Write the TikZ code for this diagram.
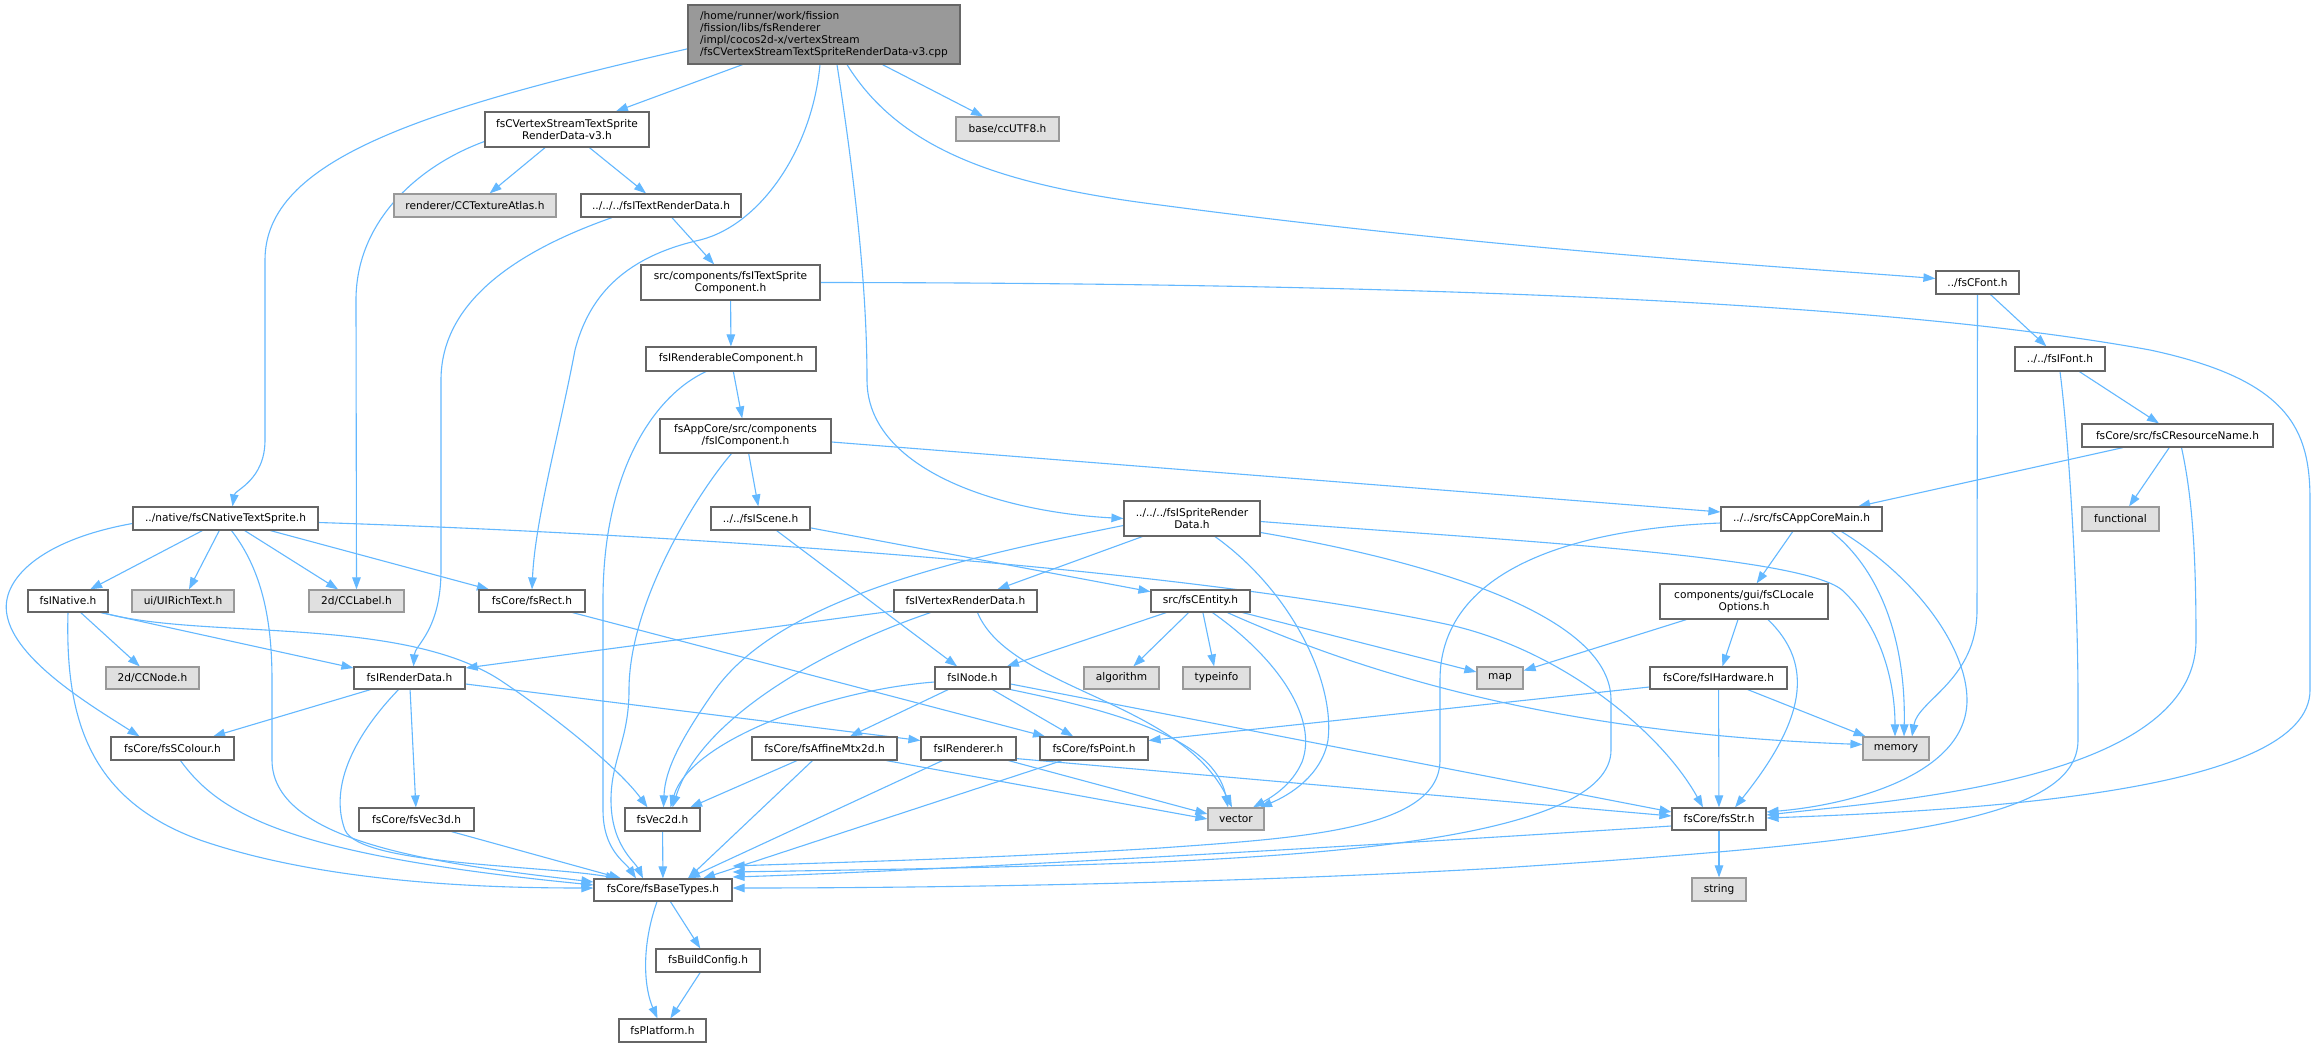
\documentclass[tikz,border=0pt]{standalone}
\usepackage{fontspec}
\setmainfont{DejaVu Sans}
\usetikzlibrary{arrows.meta,backgrounds}
\definecolor{edgeblue}{HTML}{63B8FF}
\definecolor{boxline}{HTML}{666666}
\definecolor{sysfill}{HTML}{E0E0E0}
\definecolor{sysline}{HTML}{999999}
\definecolor{topfill}{HTML}{999999}
\tikzset{
  hdr/.style={shape=rectangle,draw=boxline,fill=white,line width=1.2pt,inner sep=0pt,align=center,font=\fontsize{10.6}{12}\selectfont},
  syshdr/.style={hdr,draw=sysline,fill=sysfill},
  inc/.style={draw=edgeblue,line width=1.1pt,-{Triangle[length=12pt,width=8.5pt]}}
}
\begin{document}
\begin{tikzpicture}[x=1pt,y=-1pt]
 \useasboundingbox (0,0) rectangle (2316,1048);
 \node (main) at (824,34.5) [hdr,fill=topfill,align=left,minimum width=272pt,minimum height=59pt] {/home/runner/work/fission\\/fission/libs/fsRenderer\\/impl/cocos2d-x/vertexStream\\/fsCVertexStreamTextSpriteRenderData-v3.cpp};
 \node (vsd) at (567,129.5) [hdr,minimum width=164pt,minimum height=35pt] {fsCVertexStreamTextSprite\\RenderData-v3.h};
 \node (utf) at (1007.5,129) [syshdr,minimum width=103pt,minimum height=24pt] {base/ccUTF8.h};
 \node (atlas) at (475,205.5) [syshdr,minimum width=162pt,minimum height=23pt] {renderer/CCTextureAtlas.h};
 \node (trd) at (661,205.5) [hdr,minimum width=160pt,minimum height=23pt] {../../../fsITextRenderData.h};
 \node (tsc) at (730.5,282.5) [hdr,minimum width=179pt,minimum height=35pt] {src/components/fsITextSprite\\Component.h};
 \node (rcomp) at (731,359) [hdr,minimum width=170pt,minimum height=24pt] {fsIRenderableComponent.h};
 \node (comp) at (745.5,436) [hdr,minimum width=171pt,minimum height=34pt] {fsAppCore/src/components\\/fsIComponent.h};
 \node (cfont) at (1977.5,282.5) [hdr,minimum width=83pt,minimum height=23pt] {../fsCFont.h};
 \node (ifont) at (2060,359) [hdr,minimum width=90pt,minimum height=24pt] {../../fsIFont.h};
 \node (resname) at (2177.5,435.5) [hdr,minimum width=191pt,minimum height=23pt] {fsCore/src/fsCResourceName.h};
 \node (functional) at (2120.5,519) [syshdr,minimum width=77pt,minimum height=24pt] {functional};
 \node (appmain) at (1801.5,519) [hdr,minimum width=161pt,minimum height=24pt] {../../src/fsCAppCoreMain.h};
 \node (native) at (225.5,518.5) [hdr,minimum width=185pt,minimum height=23pt] {../native/fsCNativeTextSprite.h};
 \node (scene) at (760.5,518.5) [hdr,minimum width=99pt,minimum height=23pt] {../../fsIScene.h};
 \node (spr) at (1192,518.5) [hdr,minimum width=136pt,minimum height=35pt] {../../../fsISpriteRender\\Data.h};
 \node (inative) at (68,601) [hdr,minimum width=80pt,minimum height=22pt] {fsINative.h};
 \node (rich) at (183,601) [syshdr,minimum width=102pt,minimum height=22pt] {ui/UIRichText.h};
 \node (cclabel) at (356.5,601) [syshdr,minimum width=95pt,minimum height=22pt] {2d/CCLabel.h};
 \node (rect) at (532,601) [hdr,minimum width=106pt,minimum height=22pt] {fsCore/fsRect.h};
 \node (vrd) at (965.5,601) [hdr,minimum width=143pt,minimum height=22pt] {fsIVertexRenderData.h};
 \node (entity) at (1200.5,601) [hdr,minimum width=99pt,minimum height=22pt] {src/fsCEntity.h};
 \node (locale) at (1744,601.5) [hdr,minimum width=168pt,minimum height=35pt] {components/gui/fsCLocale\\Options.h};
 \node (ccnode) at (152.5,678) [syshdr,minimum width=93pt,minimum height=22pt] {2d/CCNode.h};
 \node (rdata) at (409.5,678) [hdr,minimum width=111pt,minimum height=22pt] {fsIRenderData.h};
 \node (inode) at (972.5,678) [hdr,minimum width=75pt,minimum height=22pt] {fsINode.h};
 \node (algorithm) at (1121.5,678) [syshdr,minimum width=75pt,minimum height=22pt] {algorithm};
 \node (typeinfo) at (1216.5,678) [syshdr,minimum width=67pt,minimum height=22pt] {typeinfo};
 \node (map) at (1500,678) [syshdr,minimum width=46pt,minimum height=22pt] {map};
 \node (hardware) at (1718.5,678) [hdr,minimum width=137pt,minimum height=22pt] {fsCore/fsIHardware.h};
 \node (colour) at (172.5,748.5) [hdr,minimum width=123pt,minimum height=23pt] {fsCore/fsSColour.h};
 \node (affine) at (824.5,748.5) [hdr,minimum width=145pt,minimum height=23pt] {fsCore/fsAffineMtx2d.h};
 \node (renderer) at (968.5,748.5) [hdr,minimum width=95pt,minimum height=23pt] {fsIRenderer.h};
 \node (point) at (1094,748.5) [hdr,minimum width=108pt,minimum height=23pt] {fsCore/fsPoint.h};
 \node (memory) at (1896,748.5) [syshdr,minimum width=66pt,minimum height=23pt] {memory};
 \node (vec3d) at (416.5,819.5) [hdr,minimum width=115pt,minimum height=23pt] {fsCore/fsVec3d.h};
 \node (vec2d) at (662.5,819.5) [hdr,minimum width=75pt,minimum height=23pt] {fsVec2d.h};
 \node (vector) at (1236,819) [syshdr,minimum width=56pt,minimum height=22pt] {vector};
 \node (str) at (1719,819) [hdr,minimum width=94pt,minimum height=22pt] {fsCore/fsStr.h};
 \node (basetypes) at (663,890) [hdr,minimum width=138pt,minimum height=22pt] {fsCore/fsBaseTypes.h};
 \node (string) at (1719,889.5) [syshdr,minimum width=54pt,minimum height=23pt] {string};
 \node (buildcfg) at (708,960.5) [hdr,minimum width=104pt,minimum height=23pt] {fsBuildConfig.h};
 \node (platform) at (662.5,1030.5) [hdr,minimum width=87pt,minimum height=23pt] {fsPlatform.h};
 \begin{scope}[on background layer]
 \fill[white] (0,0) rectangle (2316,1048);
 \draw[inc] (main) -- (vsd);
 \draw[inc] (main) -- (utf);
 \draw[inc] (main.186) .. controls (420,110) and (265,160) .. (265,260) -- (265,440) .. controls (265,480) and (235,490) .. ([xshift=7pt]native.north);
 \draw[inc] ([xshift=-4pt]main.south) .. controls (812,150) and (760,225) .. (700,240) .. controls (620,258) and (588,300) .. (575,350) .. controls (560,430) and (535,520) .. (rect.north);
 \draw[inc] ([xshift=13pt]main.south) .. controls (858,200) and (867,300) .. (867,380) .. controls (867,470) and (1000,512) .. (spr.west);
 \draw[inc] ([xshift=23pt]main.south) .. controls (900,150) and (1000,185) .. (1160,205) .. controls (1500,250) and (1800,268) .. ([yshift=4pt]cfont.west);
 \draw[inc] (vsd) -- (atlas);
 \draw[inc] (vsd) -- (trd);
 \draw[inc] ([yshift=-12pt]vsd.west) .. controls (420,165) and (356,220) .. (356,300) -- (cclabel.north);
 \draw[inc] (trd) -- (tsc);
 \draw[inc] ([xshift=-49pt]trd.south) .. controls (520,250) and (441,300) .. (441,380) -- (441,570) .. controls (441,630) and (415,645) .. ([xshift=4pt]rdata.north);
 \draw[inc] (tsc) -- (rcomp);
 \draw[inc] (tsc.east) .. controls (1300,283) and (1850,295) .. (2150,350) .. controls (2290,380) and (2310,430) .. (2310,500) -- (2310,690) .. controls (2310,790) and (1990,810) .. ([yshift=1pt]str.east);
 \draw[inc] (rcomp) -- (comp);
 \draw[inc] ([xshift=-25pt]rcomp.south) .. controls (655,395) and (603,470) .. (603,600) -- (603,810) .. controls (603,850) and (625,862) .. ([xshift=-27pt]basetypes.north);
 \draw[inc] (comp) -- (scene);
 \draw[inc] ([yshift=-6pt]comp.east) -- ([yshift=7pt]appmain.west);
 \draw[inc] ([xshift=-14pt]comp.south) .. controls (700,490) and (629,600) .. (629,690) .. controls (629,740) and (611,760) .. (611,800) .. controls (611,845) and (635,862) .. ([xshift=-20pt]basetypes.north);
 \draw[inc] (scene) -- (entity);
 \draw[inc] (scene) -- (inode);
 \draw[inc] (native) -- (inative);
 \draw[inc] (native) -- (rich);
 \draw[inc] (native) -- (cclabel);
 \draw[inc] (native) -- (rect);
 \draw[inc] ([yshift=-5pt]native.west) .. controls (40,540) and (0,580) .. (7,615) .. controls (15,660) and (90,705) .. ([xshift=-33pt]colour.north);
 \draw[inc] ([xshift=6pt]native.south) .. controls (262,570) and (272,620) .. (272,680) -- (272,760) .. controls (272,845) and (450,865) .. ([yshift=8pt]basetypes.west);
 \draw[inc] ([yshift=-4pt]native.east) .. controls (700,535) and (1200,570) .. (1450,625) .. controls (1560,650) and (1660,730) .. ([xshift=-16pt]str.north);
 \draw[inc] (inative) -- (ccnode);
 \draw[inc] ([xshift=-8pt]inative.south east) -- ([yshift=10pt]rdata.west);
 \draw[inc] ([xshift=-6pt]inative.south east) .. controls (200,640) and (400,615) .. (500,680) .. controls (560,720) and (620,770) .. ([xshift=-15pt]vec2d.north);
 \draw[inc] (inative.south) .. controls (65,720) and (90,800) .. (200,840) .. controls (330,885) and (500,888) .. ([yshift=2pt]basetypes.west);
 \draw[inc] (rdata) -- (colour);
 \draw[inc] (rdata) -- (vec3d);
 \draw[inc] ([yshift=-6pt]rdata.east) -- ([yshift=8pt]renderer.west);
 \draw[inc] ([xshift=-11pt]rdata.south) .. controls (350,740) and (330,790) .. (345,830) .. controls (360,865) and (540,865) .. ([xshift=-45pt]basetypes.north);
 \draw[inc] ([xshift=8pt]colour.south) .. controls (220,815) and (290,855) .. ([yshift=5pt]basetypes.west);
 \draw[inc] ([xshift=35pt]vec3d.south) -- ([xshift=-42pt]basetypes.north);
 \draw[inc] (vec2d) -- (basetypes);
 \draw[inc] (inode) -- (affine);
 \draw[inc] (inode) -- (point);
 \draw[inc] (inode.south east) .. controls (1120,712) and (1215,740) .. ([xshift=-8pt]vector.north);
 \draw[inc] ([yshift=-4pt]inode.west) .. controls (830,690) and (690,740) .. ([xshift=8pt]vec2d.north);
 \draw[inc] ([yshift=-6pt]inode.east) -- ([yshift=7pt]str.west);
 \draw[inc] (renderer) -- (basetypes);
 \draw[inc] ([xshift=-8pt]renderer.south east) -- ([yshift=5pt]vector.west);
 \draw[inc] ([yshift=2pt]renderer.south east) -- ([yshift=3pt]str.west);
 \draw[inc] (affine) -- (vec2d);
 \draw[inc] ([xshift=-12pt]affine.south) -- ([xshift=25pt]basetypes.north);
 \draw[inc] ([xshift=62pt]affine.south) -- (vector.west);
 \draw[inc] ([xshift=-32pt]point.south) -- ([xshift=40pt]basetypes.north);
 \draw[inc] ([xshift=-13pt]rect.south east) -- ([xshift=-49pt]point.north);
 \draw[inc] ([yshift=-10pt]vrd.west) -- ([yshift=10pt]rdata.east);
 \draw[inc] ([xshift=-35pt]vrd.south) .. controls (820,650) and (700,720) .. ([xshift=10pt]vec2d.north);
 \draw[inc] ([xshift=12pt]vrd.south) .. controls (1010,690) and (1180,700) .. ([xshift=-4pt]vector.north);
 \draw[inc] (entity) -- (inode);
 \draw[inc] (entity) -- (algorithm);
 \draw[inc] (entity) -- (typeinfo);
 \draw[inc] ([xshift=12pt]entity.south) .. controls (1280,660) and (1318,720) .. (1302,762) .. controls (1292,785) and (1272,797) .. ([xshift=17pt]vector.north);
 \draw[inc] ([xshift=-8pt]entity.south east) -- ([yshift=6pt]map.west);
 \draw[inc] ([xshift=27pt]entity.south) .. controls (1400,690) and (1600,735) .. ([yshift=4pt]memory.west);
 \draw[inc] (spr) -- (vrd);
 \draw[inc] ([yshift=-7pt]spr.west) .. controls (950,560) and (780,600) .. (715,690) .. controls (680,740) and (665,770) .. ([xshift=1pt]vec2d.north);
 \draw[inc] ([xshift=23pt]spr.south) .. controls (1290,590) and (1335,680) .. (1328,740) .. controls (1322,775) and (1290,795) .. ([xshift=24pt]vector.north);
 \draw[inc] ([yshift=-3pt]spr.east) .. controls (1500,540) and (1800,555) .. (1842,590) .. controls (1880,625) and (1895,680) .. ([xshift=-1pt]memory.north);
 \draw[inc] ([yshift=-14pt]spr.east) .. controls (1450,565) and (1611,620) .. (1611,700) -- (1611,750) .. controls (1611,840) and (1300,855) .. (1160,862) .. controls (1000,868) and (850,870) .. ([yshift=18pt]basetypes.east);
 \draw[inc] (appmain) -- (locale);
 \draw[inc] ([xshift=30pt]appmain.south) .. controls (1880,570) and (1906,640) .. ([xshift=8pt]memory.north);
 \draw[inc] ([xshift=40pt]appmain.south) .. controls (1920,580) and (1967,650) .. (1967,700) .. controls (1967,775) and (1850,805) .. ([yshift=7pt]str.east);
 \draw[inc] ([yshift=-4pt]appmain.west) .. controls (1550,530) and (1440,580) .. (1440,680) -- (1440,760) .. controls (1440,830) and (1300,838) .. (1160,848) .. controls (1000,858) and (850,862) .. ([yshift=24pt]basetypes.east);
 \draw[inc] (locale) -- (map);
 \draw[inc] (locale) -- (hardware);
 \draw[inc] ([xshift=24pt]locale.south) .. controls (1815,665) and (1805,720) .. ([xshift=16pt]str.north);
 \draw[inc] (hardware) -- (str);
 \draw[inc] (hardware) -- (memory);
 \draw[inc] ([yshift=-9pt]hardware.west) -- ([yshift=8pt]point.east);
 \draw[inc] (resname) -- (appmain);
 \draw[inc] (resname) -- (functional);
 \draw[inc] ([xshift=4pt]resname.south) .. controls (2193,500) and (2196,560) .. (2196,640) .. controls (2196,780) and (1900,800) .. ([yshift=4pt]str.east);
 \draw[inc] (ifont) -- (resname);
 \draw[inc] (ifont.south) .. controls (2070,450) and (2078,600) .. (2078,700) -- (2078,740) .. controls (2078,820) and (1900,842) .. (1500,868) .. controls (1200,885) and (900,888) .. ([yshift=2pt]basetypes.east);
 \draw[inc] (cfont) -- (ifont);
 \draw[inc] (cfont.south) -- (1977,610) .. controls (1977,680) and (1918,700) .. ([xshift=16pt]memory.north);
 \draw[inc] (str) -- (string);
 \draw[inc] ([yshift=-7pt]str.west) .. controls (1300,850) and (900,872) .. ([yshift=13pt]basetypes.east);
 \draw[inc] (basetypes) -- (buildcfg);
 \draw[inc] ([xshift=-6pt]basetypes.south) .. controls (640,950) and (645,990) .. ([xshift=-5pt]platform.north);
 \draw[inc] (buildcfg) -- (platform);
 \end{scope}
\end{tikzpicture}
\end{document}
